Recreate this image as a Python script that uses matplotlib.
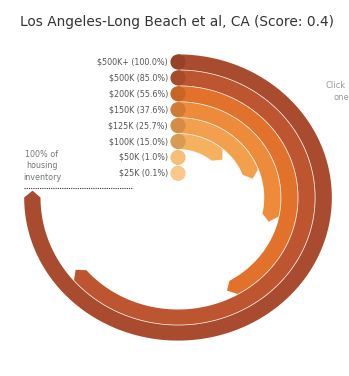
import numpy as np
import matplotlib
matplotlib.use("Agg")
from matplotlib import pyplot as plt
from matplotlib.patches import Polygon, Ellipse
from matplotlib.colors import to_rgb

# price tiers and share of housing inventory (%)
tiers = ["$500K+", "$500K", "$200K", "$150K", "$125K", "$100K", "$50K", "$25K"]
shares = [100.0, 85.0, 55.6, 37.6, 25.7, 15.0, 1.0, 0.1]
colors = ["#a94b2e", "#bd5630", "#e2722b", "#ee8b3a", "#f2a04e", "#f5b060", "#f7be7a", "#f8c789"]
title = "Los Angeles-Long Beach et al, CA (Score: 0.4)"

W, H = 349, 376
fig = plt.figure(figsize=(W / 100, H / 100), dpi=100)
ax = fig.add_axes([0, 0, 1, 1])
ax.set_xlim(0, W)
ax.set_ylim(H, 0)
ax.axis("off")

cx, cy = 178, 197.5
sx = 1.075      # horizontal stretch of the rings
hw = 7.6        # half width of a ring
full = 270.0    # 100% = three quarters of a circle

def pt(r, a):
    t = np.radians(a)
    return cx + sx * r * np.sin(t), cy - r * np.cos(t)

def darker(c, f=0.88):
    return tuple(v * f for v in to_rgb(c))

for i, (lab, s, c) in enumerate(zip(tiers, shares, colors)):
    r = 135.5 - 15.9 * i
    end = full * s / 100
    if end > 4:
        a = np.linspace(0, end, 200)
        outer = [pt(r + hw, t) for t in a]
        inner = [pt(r - hw, t) for t in a[::-1]]
        tip = pt(r, end + np.degrees(hw / r) * 0.9)
        poly = outer + [tip] + inner
        ax.add_patch(Polygon(poly, closed=True, fc=c, ec="none", zorder=2))
    ax.add_patch(Ellipse((cx, cy - r), 2 * hw, 2 * hw, fc=darker(c) if end > 4 else c,
                         ec="none", zorder=3))
    ax.text(168, cy - r, f"{lab} ({s:.1f}%)", ha="right", va="center",
            fontsize=5.8, color="#555555")

ax.text(177, 22, title, ha="center", va="center", fontsize=9.9, color="#333333")
ax.text(42, 166, "100% of\nhousing\ninventory", ha="center", va="center",
        fontsize=5.8, color="#777777", linespacing=1.35)
ax.plot([24, 133], [188, 188], color="#333333", lw=0.8, ls=(0, (1, 1)))
ax.text(326, 85, "Click", ha="left", va="center", fontsize=6, color="#999999")
ax.text(333, 97, "one", ha="left", va="center", fontsize=6, color="#999999")

fig.savefig("out.png", dpi=100)
